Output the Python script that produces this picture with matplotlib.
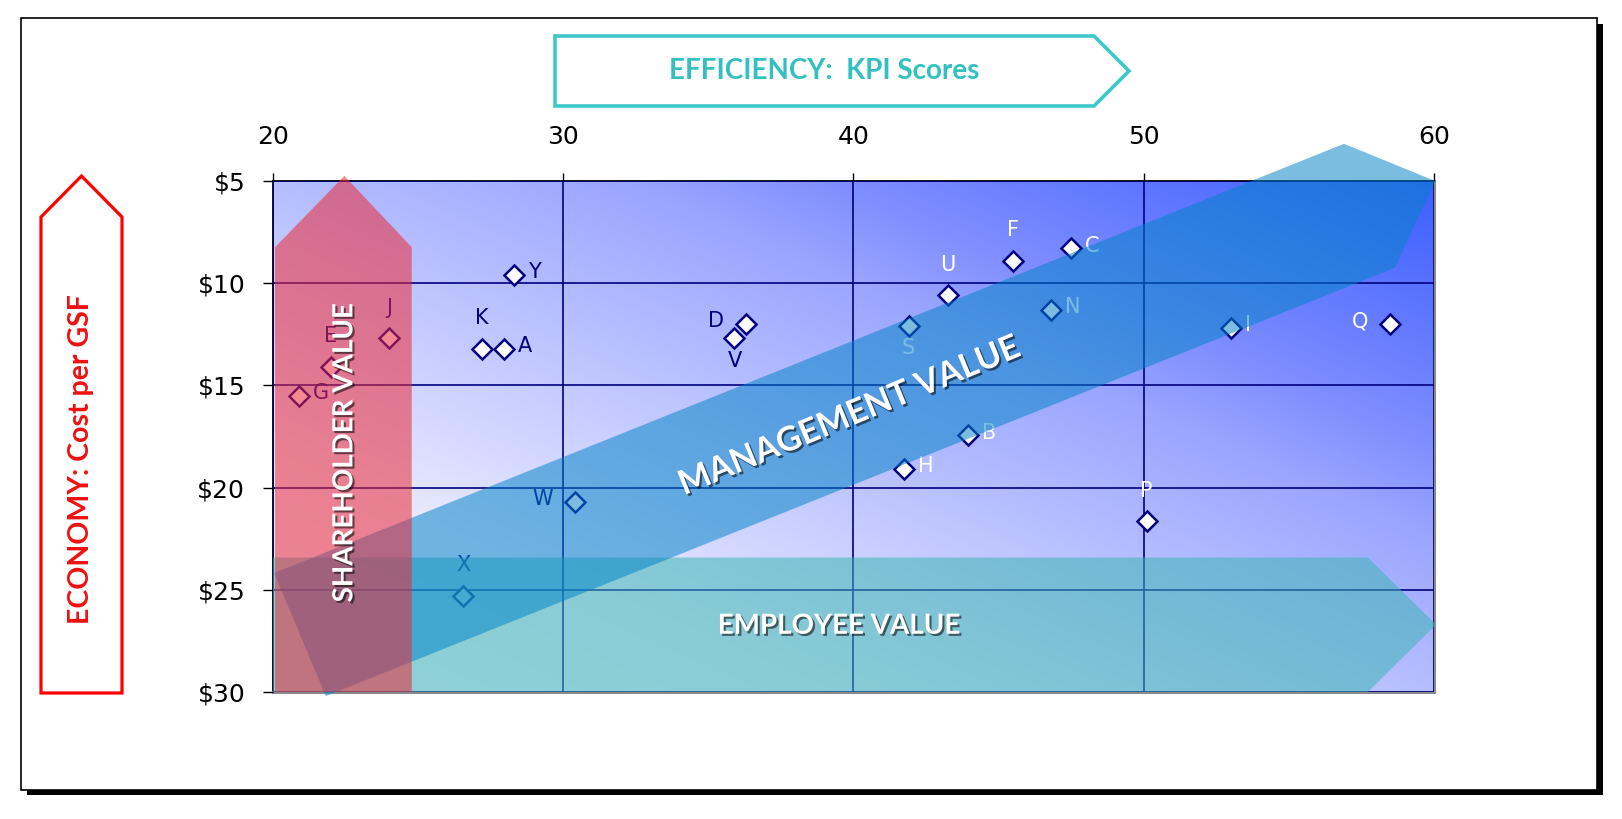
import numpy as np
import matplotlib
matplotlib.use('Agg')
import matplotlib.pyplot as plt
from matplotlib.patches import Polygon, Rectangle
import matplotlib.patheffects as pe

# ---------------- data ----------------
labels = ['Y', 'J', 'E', 'G', 'K', 'A', 'D', 'V', 'S', 'U',
          'F', 'C', 'N', 'I', 'Q', 'B', 'H', 'W', 'P', 'X']
kpi_score = [28.3, 24.0, 22.0, 20.9, 27.2, 27.95, 36.3, 35.9, 41.9, 43.25,
             45.5, 47.5, 46.8, 53.0, 58.5, 43.95, 41.75, 30.4, 50.1, 26.55]
cost_gsf = [9.6, 12.7, 14.1, 15.5, 13.2, 13.2, 12.0, 12.7, 12.1, 10.6,
            8.9, 8.3, 11.3, 12.2, 12.0, 17.45, 19.1, 20.7, 21.65, 25.3]
label_side = ['right', 'above', 'above', 'right', 'above', 'right', 'left', 'below', 'below', 'above',
              'above', 'right', 'right', 'right', 'left', 'right', 'right', 'left', 'above', 'above']
label_dark = [True, True, True, True, True, True, True, True, False, False,
              False, False, False, False, False, False, False, True, False, True]
x_ticks = [20, 30, 40, 50, 60]
y_ticks = [5, 10, 15, 20, 25, 30]
y_tick_labels = ['$5', '$10', '$15', '$20', '$25', '$30']

W, H = 1622, 819
fig = plt.figure(figsize=(W / 100, H / 100), dpi=100)

# ---------------- frame / outer decorations (pixel coords) ----------------
bg = fig.add_axes([0, 0, 1, 1], zorder=-1)
bg.set_xlim(0, W)
bg.set_ylim(H, 0)
bg.axis('off')
bg.add_patch(Rectangle((27, 24), 1576, 771, fc='black', ec='none'))
bg.add_patch(Rectangle((21, 18), 1576, 772, fc='white', ec='black', lw=1.2))

# Economy arrow (up)
bg.add_patch(Polygon([(41, 217), (81.5, 176), (122, 217), (122, 693), (41, 693)],
                     closed=True, fc='white', ec='#ff0000', lw=2.3, joinstyle='miter'))
bg.text(81.5, 459, 'ECONOMY: Cost per GSF', rotation=90, ha='center', va='center',
        color='#ee1111', fontsize=20.5, fontweight='bold', family=['Lato', 'DejaVu Sans'])

# Efficiency arrow (right)
bg.add_patch(Polygon([(555, 36), (1094, 36), (1129, 71), (1094, 106), (555, 106)],
                     closed=True, fc='white', ec='#3ec8c8', lw=2.6, joinstyle='miter'))
bg.text(824, 71, 'EFFICIENCY:  KPI Scores', ha='center', va='center',
        color='#33c0c0', fontsize=20, fontweight='bold', family=['Lato', 'DejaVu Sans'])

# ---------------- main axes ----------------
ax = fig.add_axes([273 / W, 1 - 692 / H, 1161 / W, 511 / H])
ax.set_xlim(20, 60)
ax.set_ylim(30, 5)

# gradient background
ny, nx = 200, 400
u = np.linspace(0, 1, nx)[None, :]
w = np.linspace(1, 0, ny)[:, None]
t = (u + w) / 2
stops = [0.0, 0.23, 0.5, 0.65, 0.75, 1.0]
rs = [246, 232, 182, 154, 125, 60]
gs = [246, 234, 190, 166, 140, 95]
bs = [255, 255, 255, 255, 255, 255]
img = np.dstack([np.interp(t, stops, rs), np.interp(t, stops, gs), np.interp(t, stops, bs)]) / 255.0
ax.imshow(img, extent=(20, 60, 30, 5), aspect='auto', origin='upper', zorder=0, interpolation='bilinear')

ax.set_xticks(x_ticks)
ax.set_yticks(y_ticks)
ax.set_yticklabels(y_tick_labels)
ax.xaxis.tick_top()
ax.tick_params(axis='x', which='both', top=True, bottom=False, labeltop=True, labelbottom=False,
               direction='out', length=6, width=1, color='black', pad=17, labelsize=18)
ax.tick_params(axis='y', direction='out', length=7, width=1, color='black', pad=13, labelsize=18)
for lab in ax.get_xticklabels() + ax.get_yticklabels():
    lab.set_family('DejaVu Sans')
ax.set_axisbelow(False)
ax.grid(True, color='#000080', lw=1.2)
for s in ['top', 'left']:
    ax.spines[s].set_color('black')
    ax.spines[s].set_linewidth(1.3)
for s in ['right', 'bottom']:
    ax.spines[s].set_color('#8a8a8a')
    ax.spines[s].set_linewidth(2.2)

# markers
ax.plot(kpi_score, cost_gsf, ls='none', marker='D', ms=10, mfc='white', mec='#000080',
        mew=1.8, zorder=3, clip_on=False)

# point labels
offs = {'above': ((0, 22), 'center', 'center'),
        'below': ((0, -16), 'center', 'center'),
        'right': ((10, 2), 'left', 'center'),
        'left': ((-16, 2), 'right', 'center')}
for lab, xv, yv, side, dark in zip(labels, kpi_score, cost_gsf, label_side, label_dark):
    (dx, dy), ha, va = offs[side]
    ax.annotate(lab, (xv, yv), xytext=(dx, dy), textcoords='offset points', ha=ha, va=va,
                fontsize=15, color='#000080' if dark else 'white', zorder=3,
                family='DejaVu Sans')

# Employee value arrow (teal, right)
ax.add_patch(Polygon([(20.0, 23.42), (57.72, 23.42), (60.07, 26.7), (57.72, 30.0), (20.0, 30.0)],
                     closed=True, fc=(0.24, 0.71, 0.71, 0.55), ec='none', zorder=4, clip_on=False))
# Management value arrow (diagonal blue)
ax.add_patch(Polygon([(20.04, 24.18), (56.9, 3.18), (60.04, 5.0), (58.65, 9.25), (21.82, 30.2)],
                     closed=True, fc=(0.0, 0.51, 0.78, 0.52), ec='none', zorder=5, clip_on=False))
# Shareholder value arrow (red, up)
ax.add_patch(Polygon([(20.07, 30.0), (20.07, 8.24), (22.46, 4.75), (24.78, 8.24), (24.78, 30.0)],
                     closed=True, fc=(0.92, 0.16, 0.22, 0.55), ec='none', zorder=6, clip_on=False))

shadow = [pe.SimplePatchShadow(offset=(1.5, -1.5), shadow_rgbFace='black', alpha=0.55), pe.Normal()]
ax.text(22.46, 18.3, 'SHAREHOLDER VALUE', rotation=90, ha='center', va='center', color='white',
        fontsize=20, fontweight='bold', family=['Lato', 'DejaVu Sans'], zorder=7, path_effects=shadow)
ax.text(39.85, 16.5, 'MANAGEMENT VALUE', rotation=22.5, rotation_mode='anchor', ha='center',
        va='center', color='white', fontsize=24.5, fontweight='bold', family=['Lato', 'DejaVu Sans'],
        zorder=7, path_effects=shadow)
ax.text(39.5, 26.76, 'EMPLOYEE VALUE', ha='center', va='center', color='white', fontsize=20,
        fontweight='bold', family=['Lato', 'DejaVu Sans'], zorder=7, path_effects=shadow)

fig.savefig('out.png', dpi=100)
